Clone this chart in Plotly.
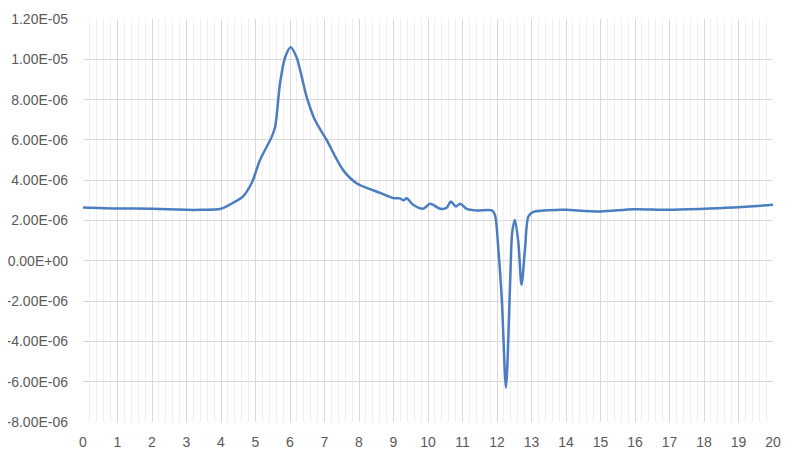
import plotly.graph_objects as go

# values (x in arbitrary units, y in 1E-06 units)
x_vals = [0, 1, 2, 3, 3.4, 4, 4.35, 4.64, 4.9, 5.13, 5.47, 5.57, 5.71, 5.86, 6.02,
          6.19, 6.48, 6.72, 7.06, 7.54, 7.93, 8.41, 8.61, 8.99, 9.19, 9.29, 9.38,
          9.57, 9.86, 10.06, 10.35, 10.54, 10.66, 10.81, 10.93, 11.12, 11.41, 11.85,
          11.94, 12.04, 12.14, 12.26, 12.38, 12.44, 12.52, 12.62, 12.71, 12.81, 12.91,
          13.05, 13.83, 14.02, 15.0, 15.95, 16.92, 17.88, 18.84, 20]
y_vals = [2.65, 2.6, 2.58, 2.53, 2.53, 2.58, 2.88, 3.2, 3.9, 5.0, 6.15, 6.65, 8.8, 10.1, 10.6,
          10.1, 8.15, 7.0, 6.0, 4.5, 3.85, 3.5, 3.37, 3.12, 3.1, 3.0, 3.1,
          2.78, 2.58, 2.83, 2.58, 2.63, 2.94, 2.7, 2.83, 2.58, 2.5, 2.5,
          2.28, 0.55, -1.94, -6.3, -1.1, 1.39, 2.03, 0.89, -1.19, 0.55, 2.2,
          2.43, 2.53, 2.53, 2.45, 2.56, 2.53, 2.57, 2.64, 2.78]
y_ticks = [-8, -6, -4, -2, 0, 2, 4, 6, 8, 10, 12]

fig = go.Figure(go.Scatter(
    x=x_vals,
    y=[v * 1e-6 for v in y_vals],
    mode="lines",
    line=dict(color="#4a7ec1", width=2.5, shape="spline", smoothing=0.8),
    hoverinfo="skip"
))

# page body has an 8px margin, so margins are shifted to compensate
fig.update_layout(
    width=800, height=462,
    margin=dict(l=75, r=35, t=11, b=48),
    paper_bgcolor="white", plot_bgcolor="white",
    showlegend=False,
    font=dict(family="Liberation Sans", size=14, color="#595959"),
)
fig.update_xaxes(
    range=[0, 20], dtick=1, tick0=0, showgrid=True, gridcolor="#d9d9d9", gridwidth=1,
    minor=dict(dtick=0.2, showgrid=True, gridcolor="#efefef", gridwidth=1),
    zeroline=False, showline=False, ticks="", ticklabelstandoff=10, automargin=False,
)
fig.update_yaxes(
    range=[-8e-6, 12e-6],
    tickvals=[v * 1e-6 for v in y_ticks],
    ticktext=["%.2E" % (v * 1e-6) for v in y_ticks],
    showgrid=True, gridcolor="#d9d9d9", gridwidth=1,
    zeroline=False, showline=False, ticks="", ticklabelstandoff=14, automargin=False,
)
fig.write_html("out.html")
